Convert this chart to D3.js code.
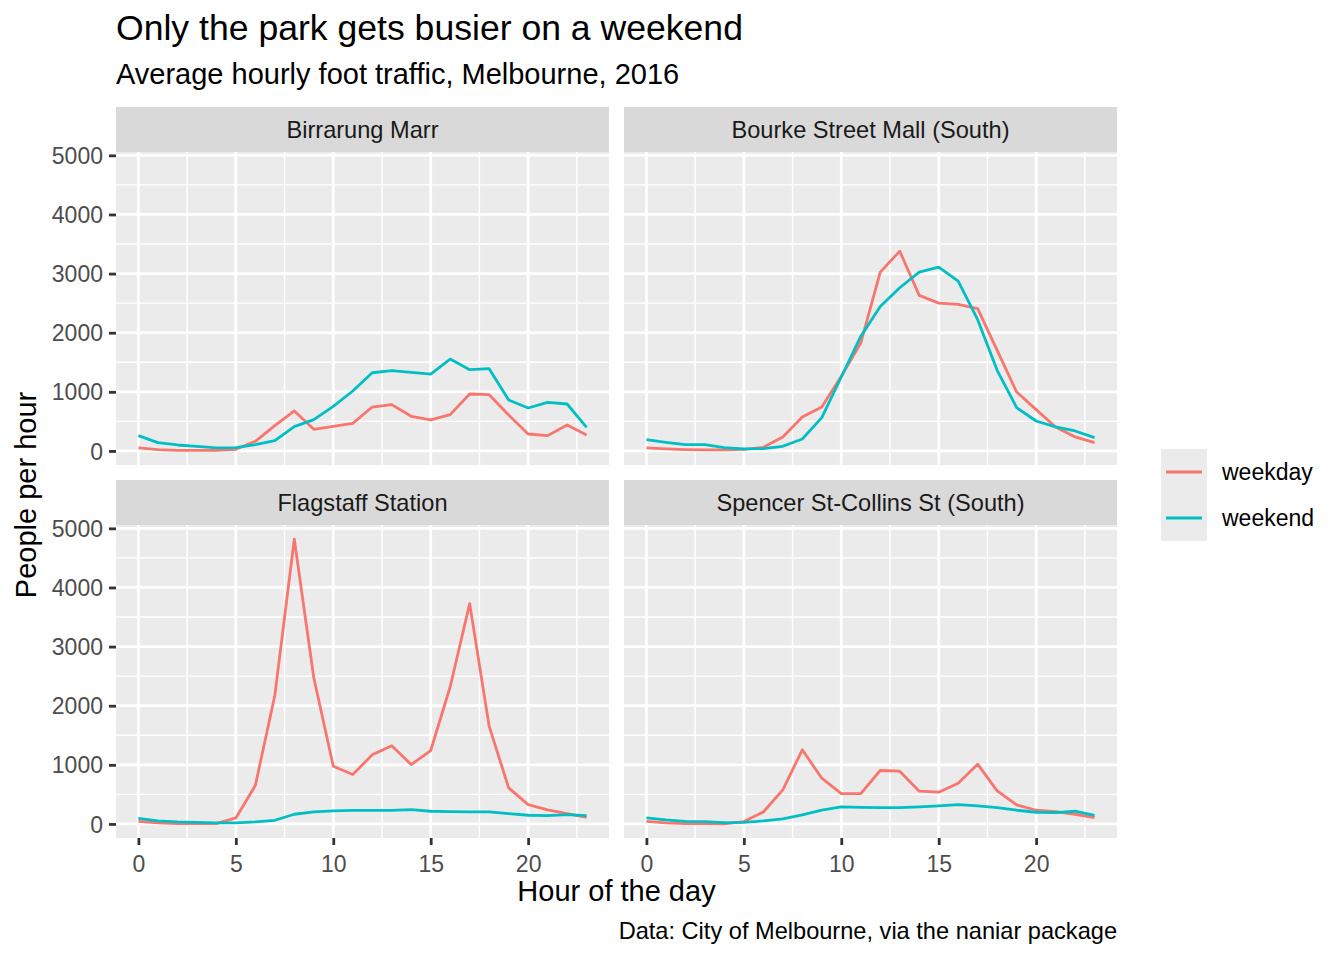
<!DOCTYPE html>
<html>
<head>
<meta charset="utf-8">
<script src="https://cdn.jsdelivr.net/npm/d3@7"></script>
<style>
  body { margin: 0; background: #fff; }
  text { font-family: "Liberation Sans", Arial, Helvetica, sans-serif; }
</style>
</head>
<body>
<div id="chart"></div>
<script>
// Data
const hours = [0, 1, 2, 3, 4, 5, 6, 7, 8, 9, 10, 11, 12, 13, 14, 15, 16, 17, 18, 19, 20, 21, 22, 23];
const sites = ["Birrarung Marr", "Bourke Street Mall (South)", "Flagstaff Station", "Spencer St-Collins St (South)"];
const seriesNames = ["weekday", "weekend"];

const birrarungWeekday = [51, 23, 11, 11, 11, 28, 163, 428, 676, 366, 417, 467, 743, 783, 586, 524, 614, 963, 952, 608, 287, 259, 439, 270];
const birrarungWeekend = [259, 141, 101, 79, 51, 56, 107, 175, 411, 529, 755, 1014, 1323, 1357, 1329, 1301, 1554, 1374, 1391, 861, 726, 822, 794, 400];

const bourkeWeekday = [51, 34, 23, 17, 17, 28, 62, 237, 575, 744, 1262, 1825, 3025, 3380, 2631, 2501, 2479, 2406, 1701, 997, 699, 406, 237, 141];
const bourkeWeekend = [192, 146, 107, 107, 56, 34, 39, 79, 203, 563, 1251, 1938, 2445, 2761, 3025, 3110, 2873, 2220, 1363, 732, 507, 406, 338, 225];

const flagstaffWeekday = [45, 17, 6, 8, 5, 102, 649, 2174, 4816, 2473, 977, 836, 1169, 1321, 1005, 1242, 2321, 3727, 1654, 610, 327, 237, 175, 113];
const flagstaffWeekend = [96, 51, 34, 28, 17, 17, 34, 62, 164, 203, 220, 231, 231, 231, 243, 215, 209, 203, 203, 175, 147, 141, 158, 141];

const spencerWeekday = [45, 17, 6, 5, 3, 40, 203, 576, 1254, 774, 514, 514, 904, 893, 554, 537, 689, 1011, 559, 322, 232, 209, 164, 107];
const spencerWeekend = [102, 68, 45, 40, 23, 28, 51, 85, 153, 232, 288, 282, 277, 277, 288, 305, 328, 305, 277, 232, 198, 192, 215, 147];

const weekdayCounts = [birrarungWeekday, bourkeWeekday, flagstaffWeekday, spencerWeekday];
const weekendCounts = [birrarungWeekend, bourkeWeekend, flagstaffWeekend, spencerWeekend];

const xTicks = [0, 5, 10, 15, 20];
const xMinor = [2.5, 7.5, 12.5, 17.5, 22.5];
const yTicks = [0, 1000, 2000, 3000, 4000, 5000];
const yMinor = [500, 1500, 2500, 3500, 4500];

// Look
const width = 1344;
const height = 960;
const colors = ["#F8766D", "#00BFC4"];
const panelW = 493;
const plotH = 313;
const stripH = 45;
const panelLeft = [116, 624];
const stripTop = [107, 480];

const svg = d3.select("#chart")
    .append("svg")
    .attr("width", width)
    .attr("height", height);

// Shared scales (ggplot style 5% expansion)
const allValues = weekdayCounts.flat().concat(weekendCounts.flat());
const xExt = d3.extent(hours);
const xPad = (xExt[1] - xExt[0]) * 0.05;
const x = d3.scaleLinear().domain([xExt[0] - xPad, xExt[1] + xPad]).range([0, panelW]);
const yExt = d3.extent(allValues);
const yPad = (yExt[1] - yExt[0]) * 0.05;
const y = d3.scaleLinear().domain([yExt[0] - yPad, yExt[1] + yPad]).range([plotH, 0]);

const line = d3.line()
    .x((d, i) => x(hours[i]))
    .y(d => y(d));

sites.forEach((site, idx) => {
    const col = idx % 2;
    const row = Math.floor(idx / 2);
    const g = svg.append("g")
        .attr("transform", `translate(${panelLeft[col]},${stripTop[row]})`);

    // strip
    g.append("rect")
        .attr("width", panelW)
        .attr("height", stripH)
        .attr("fill", "#D9D9D9");
    g.append("text")
        .attr("x", panelW / 2)
        .attr("y", stripH / 2 + 8)
        .attr("text-anchor", "middle")
        .attr("fill", "#1A1A1A")
        .style("font-size", "23.6px")
        .text(site);

    const p = g.append("g").attr("transform", `translate(0,${stripH})`);
    p.append("rect")
        .attr("width", panelW)
        .attr("height", plotH)
        .attr("fill", "#EBEBEB");

    // grid
    p.selectAll(".ymin").data(yMinor).enter().append("line")
        .attr("x1", 0).attr("x2", panelW)
        .attr("y1", d => y(d)).attr("y2", d => y(d))
        .attr("stroke", "#fff").attr("stroke-width", 1.4);
    p.selectAll(".xmin").data(xMinor).enter().append("line")
        .attr("y1", 0).attr("y2", plotH)
        .attr("x1", d => x(d)).attr("x2", d => x(d))
        .attr("stroke", "#fff").attr("stroke-width", 1.4);
    p.selectAll(".ymaj").data(yTicks).enter().append("line")
        .attr("x1", 0).attr("x2", panelW)
        .attr("y1", d => y(d)).attr("y2", d => y(d))
        .attr("stroke", "#fff").attr("stroke-width", 2.8);
    p.selectAll(".xmaj").data(xTicks).enter().append("line")
        .attr("y1", 0).attr("y2", plotH)
        .attr("x1", d => x(d)).attr("x2", d => x(d))
        .attr("stroke", "#fff").attr("stroke-width", 2.8);

    // lines
    [weekdayCounts[idx], weekendCounts[idx]].forEach((vals, s) => {
        p.append("path")
            .datum(vals)
            .attr("d", line)
            .attr("fill", "none")
            .attr("stroke", colors[s])
            .attr("stroke-width", 2.8)
            .attr("stroke-linejoin", "round");
    });

    // y axis on left column
    if (col === 0) {
        const ax = p.append("g")
            .call(d3.axisLeft(y).tickValues(yTicks).tickSize(7).tickPadding(6).tickFormat(d3.format("d")));
        ax.select(".domain").remove();
        ax.selectAll("line").attr("stroke", "#333333").attr("stroke-width", 2.8);
        ax.selectAll("text").attr("fill", "#4D4D4D").style("font-size", "23px").attr("dy", "0.35em");
    }
    // x axis on bottom row
    if (row === 1) {
        const ax = p.append("g")
            .attr("transform", `translate(0,${plotH})`)
            .call(d3.axisBottom(x).tickValues(xTicks).tickSize(7).tickPadding(5));
        ax.select(".domain").remove();
        ax.selectAll("line").attr("stroke", "#333333").attr("stroke-width", 2.8);
        ax.selectAll("text").attr("fill", "#4D4D4D").style("font-size", "23px").attr("dy", "0.95em");
    }
});

// titles
svg.append("text")
    .attr("x", 116).attr("y", 40)
    .style("font-size", "35.6px")
    .attr("fill", "#000")
    .text("Only the park gets busier on a weekend");
svg.append("text")
    .attr("x", 116).attr("y", 84)
    .style("font-size", "29px")
    .attr("fill", "#000")
    .text("Average hourly foot traffic, Melbourne, 2016");

svg.append("text")
    .attr("x", (116 + 1117) / 2).attr("y", 901)
    .attr("text-anchor", "middle")
    .style("font-size", "29px")
    .text("Hour of the day");
svg.append("text")
    .attr("transform", `translate(36,${(152 + 838) / 2}) rotate(-90)`)
    .attr("text-anchor", "middle")
    .style("font-size", "29px")
    .text("People per hour");
svg.append("text")
    .attr("x", 1117).attr("y", 939)
    .attr("text-anchor", "end")
    .style("font-size", "23.6px")
    .text("Data: City of Melbourne, via the naniar package");

// legend
const legend = svg.append("g").attr("transform", "translate(1161,449)");
seriesNames.forEach((name, i) => {
    const k = legend.append("g").attr("transform", `translate(0,${i * 46})`);
    k.append("rect").attr("width", 46).attr("height", 46).attr("fill", "#EBEBEB");
    k.append("line")
        .attr("x1", 5).attr("x2", 41)
        .attr("y1", 23).attr("y2", 23)
        .attr("stroke", colors[i]).attr("stroke-width", 2.8);
    k.append("text")
        .attr("x", 61).attr("y", 23)
        .attr("dy", "0.35em")
        .style("font-size", "23px")
        .text(name);
});
</script>
</body>
</html>
